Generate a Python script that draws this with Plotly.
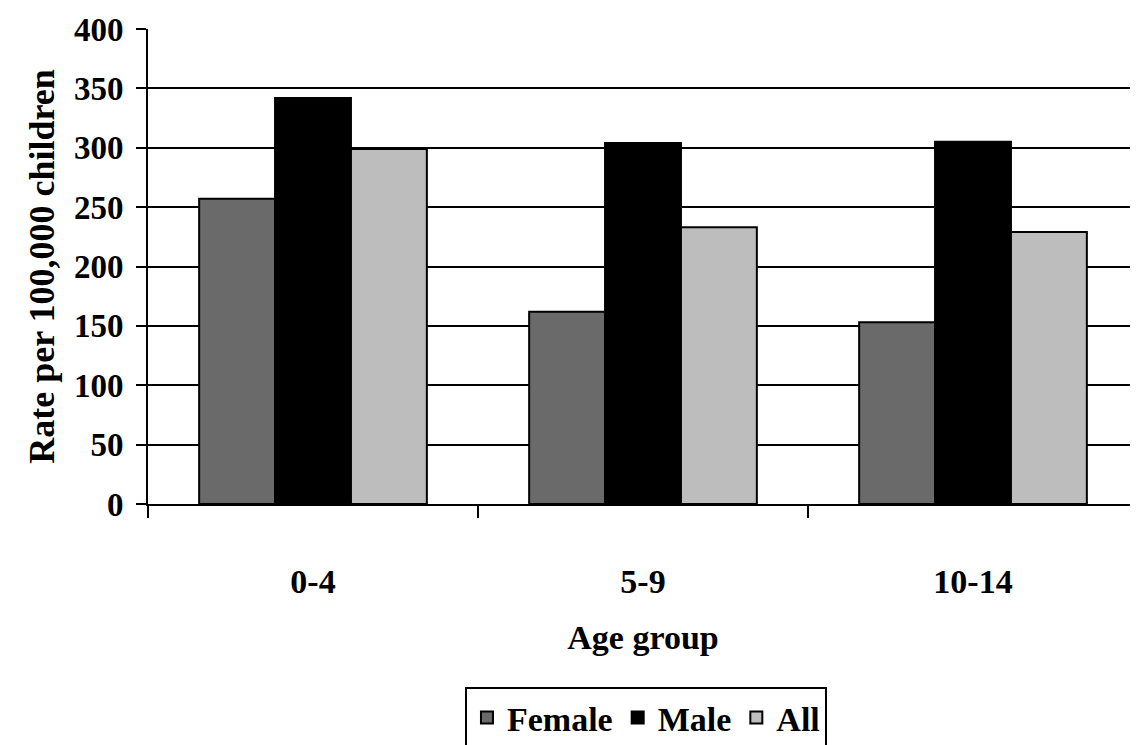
import plotly.graph_objects as go

categories = ["0-4", "5-9", "10-14"]
female = [257, 162, 153]
male = [342, 304, 305]
all_children = [299, 233, 229]

FONT = "Liberation Serif"

fig = go.Figure()
fig.add_trace(go.Bar(name="Female", x=categories, y=female,
                     marker=dict(color="#6a6a6a", line=dict(color="black", width=2))))
fig.add_trace(go.Bar(name="Male", x=categories, y=male,
                     marker=dict(color="#000000", line=dict(color="black", width=2))))
fig.add_trace(go.Bar(name="All", x=categories, y=all_children,
                     marker=dict(color="#bdbdbd", line=dict(color="black", width=2))))

fig.update_layout(
    width=1130, height=745,
    margin=dict(l=140, r=0, t=21, b=249),
    paper_bgcolor="white", plot_bgcolor="white",
    barmode="group", bargap=0.31, bargroupgap=0,
    font=dict(family=FONT, size=34, color="black", weight="bold"),
    showlegend=True,
    legend=dict(orientation="h", x=0.503, xanchor="center", y=-0.385, yanchor="top",
                bordercolor="black", borderwidth=2, bgcolor="white",
                font=dict(family=FONT, size=34, color="black", weight="bold"),
                itemsizing="constant", traceorder="normal"),
    xaxis=dict(
        title=dict(text="Age group", font=dict(family=FONT, size=34, weight="bold"), standoff=26),
        showline=True, linecolor="black", linewidth=2,
        ticks="outside", tickson="boundaries", ticklen=12, tickwidth=2, tickcolor="black",
        tickfont=dict(family=FONT, size=34, weight="bold"),
        ticklabelstandoff=46,
        showgrid=False,
    ),
    yaxis=dict(
        title=dict(text="Rate per 100,000 children", font=dict(family=FONT, size=36, weight="bold"), standoff=8),
        range=[0, 400], dtick=50,
        showline=True, linecolor="black", linewidth=2,
        ticks="outside", ticklen=10, tickwidth=2, tickcolor="black",
        tickfont=dict(family=FONT, size=33, weight="bold"),
        ticklabelstandoff=6,
        showgrid=True, gridcolor="black", gridwidth=2,
        zeroline=False,
    ),
)

fig.write_html("out.html")
